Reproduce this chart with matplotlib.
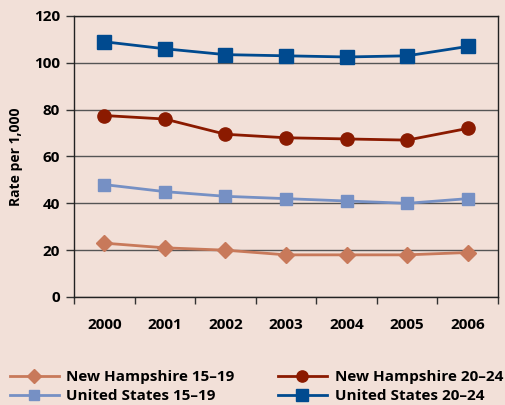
import matplotlib
matplotlib.use("Agg")
import matplotlib.pyplot as plt
from matplotlib.lines import Line2D

years = ["2000", "2001", "2002", "2003", "2004", "2005", "2006"]
nh_15_19 = [23, 21, 20, 18, 18, 18, 19]
nh_20_24 = [77.5, 76, 69.5, 68, 67.5, 67, 72]
us_15_19 = [48, 45, 43, 42, 41, 40, 42]
us_20_24 = [109, 106, 103.5, 103, 102.5, 103, 107]
yticks = [0, 20, 40, 60, 80, 100, 120]

bg = "#f2e0d8"
c_nh1 = "#c8795a"
c_nh2 = "#8b1a00"
c_us1 = "#7690c4"
c_us2 = "#004a8f"

plt.rcParams['font.family'] = ['Open Sans', 'DejaVu Sans']
plt.rcParams['font.weight'] = 'bold'

fig = plt.figure(figsize=(5.05, 4.05), dpi=100, facecolor=bg)
ax = fig.add_axes([74/505, 1 - 297/405, 424/505, (297 - 16)/405])
ax.set_facecolor(bg)

x = list(range(len(years)))
series = [
    (nh_15_19, c_nh1, "D", 8, "New Hampshire 15\u201319"),
    (us_15_19, c_us1, "s", 9, "United States 15\u201319"),
    (nh_20_24, c_nh2, "o", 9.5, "New Hampshire 20\u201324"),
    (us_20_24, c_us2, "s", 9.5, "United States 20\u201324"),
]
for vals, col, mk, ms, lab in series:
    ax.plot(x, vals, color=col, marker=mk, markersize=ms, linewidth=2, zorder=3)

ax.set_xlim(-0.5, 6.5)
ax.set_ylim(0, 120)
ax.set_yticks(yticks)
ax.set_yticklabels([str(v) for v in yticks], fontsize=11, fontweight='bold')
ax.set_xticks([i - 0.5 for i in range(len(years) + 1)])
ax.set_xticklabels([])
ax.set_xticks(x, minor=True)
ax.set_xticklabels(years, minor=True, fontsize=11, fontweight='bold')
ax.tick_params(axis='x', which='minor', length=0, pad=15)
ax.tick_params(axis='x', which='major', length=5, width=1, color='#333333', direction='out')
ax.tick_params(axis='y', length=6, width=1, color='#333333', pad=4)
ax.grid(axis='y', color='#555555', linewidth=1)
ax.set_axisbelow(True)
for s in ['left', 'right', 'top', 'bottom']:
    ax.spines[s].set_color('#222222')
    ax.spines[s].set_linewidth(1)
ax.set_ylabel("Rate per 1,000", fontsize=10, fontweight='bold', labelpad=8)

handles = [Line2D([0], [0], color=c, marker=m, markersize=ms * 0.85, linewidth=2)
           for _, c, m, ms, _ in series]
labels = [s[4] for s in series]
fig.legend(handles, labels, ncol=2, loc='lower left', bbox_to_anchor=(-0.008, -0.03),
           frameon=False, handlelength=3.2, columnspacing=2.85,
           handletextpad=0.5, labelspacing=0.35, prop={'weight': 'bold', 'size': 11})

fig.savefig("out.png", dpi=100, facecolor=bg)
